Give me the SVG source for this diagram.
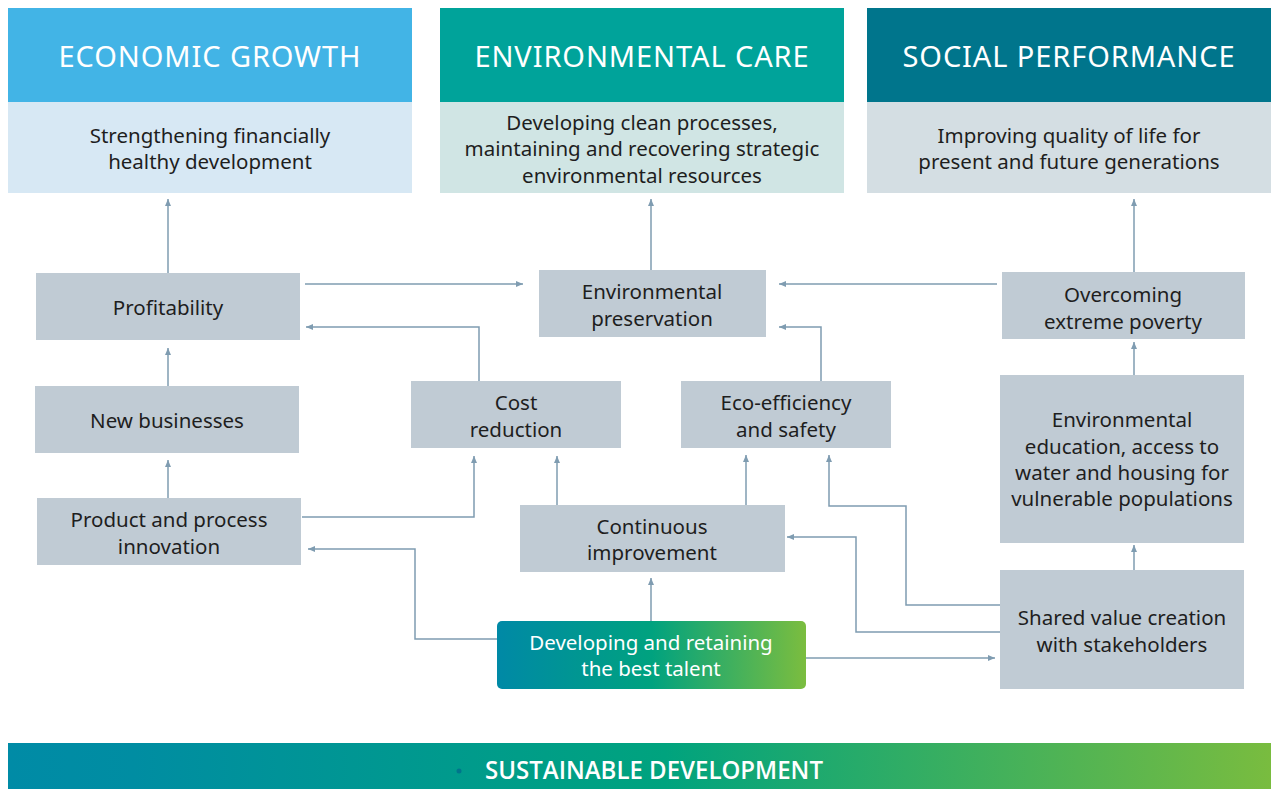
<svg xmlns="http://www.w3.org/2000/svg" width="1271" height="789" viewBox="0 0 1271 789">
<defs>
<linearGradient id="gTalent" x1="0" y1="0" x2="1" y2="0">
<stop offset="0" stop-color="#0089a6"/>
<stop offset="0.5" stop-color="#00a27f"/>
<stop offset="1" stop-color="#7bbd3f"/>
</linearGradient>
<linearGradient id="gBar" x1="0" y1="0" x2="1" y2="0">
<stop offset="0" stop-color="#008ba6"/>
<stop offset="0.1" stop-color="#008da2"/>
<stop offset="0.52" stop-color="#00a37e"/>
<stop offset="1" stop-color="#79bc3f"/>
</linearGradient>
<marker id="ah" markerUnits="userSpaceOnUse" markerWidth="8" markerHeight="8" viewBox="0 0 8 8" refX="7" refY="4" orient="auto">
<path d="M0,1 L7,4 L0,7 Z" fill="#7f9cb1"/>
</marker>
<style>
.hd{font-family:"Noto Sans","Open Sans",sans-serif;font-size:29px;fill:#ffffff;text-anchor:middle;letter-spacing:0.9px}
.sub{font-family:"Noto Sans","Open Sans",sans-serif;font-size:20.5px;fill:#1e1e1e;text-anchor:middle}
.nd{fill:#c0cbd4}
.tx{font-family:"Noto Sans","Open Sans",sans-serif;font-size:20.5px;fill:#1e1e1e;text-anchor:middle}
.wt{font-family:"Noto Sans","Open Sans",sans-serif;font-size:20.5px;fill:#ffffff;text-anchor:middle}
.cn{fill:none;stroke:#7f9cb1;stroke-width:1.5}
.ar{marker-end:url(#ah)}
</style>
</defs>
<rect width="1271" height="789" fill="#ffffff"/>

<g id="economic-growth">
<rect x="8" y="8" width="404" height="94" fill="#42b4e6"/>
<rect x="8" y="102" width="404" height="91" fill="#d7e8f4"/>
<text class="hd" x="210" y="67">ECONOMIC GROWTH</text>
<text class="sub" x="210" y="143">Strengthening financially</text>
<text class="sub" x="210" y="169">healthy development</text>
</g>
<g id="environmental-care">
<rect x="440" y="8" width="404" height="94" fill="#00a39a"/>
<rect x="440" y="102" width="404" height="91" fill="#d0e5e4"/>
<text class="hd" x="642" y="67">ENVIRONMENTAL CARE</text>
<text class="sub" x="642" y="130">Developing clean processes,</text>
<text class="sub" x="642" y="156">maintaining and recovering strategic</text>
<text class="sub" x="642" y="183">environmental resources</text>
</g>
<g id="social-performance">
<rect x="867" y="8" width="404" height="94" fill="#00758c"/>
<rect x="867" y="102" width="404" height="91" fill="#d4dee3"/>
<text class="hd" x="1069" y="67">SOCIAL PERFORMANCE</text>
<text class="sub" x="1069" y="143">Improving quality of life for</text>
<text class="sub" x="1069" y="169">present and future generations</text>
</g>

<g id="connectors">
<path class="cn ar" d="M168,273 V199"/>
<path class="cn ar" d="M168,386 V348"/>
<path class="cn ar" d="M168,498 V460"/>
<path class="cn ar" d="M305,284 H523"/>
<path class="cn ar" d="M479,381 V327 H306"/>
<path class="cn ar" d="M651,270 V199"/>
<path class="cn ar" d="M997,284 H779"/>
<path class="cn ar" d="M821,381 V327 H779"/>
<path class="cn ar" d="M1134,272 V199"/>
<path class="cn ar" d="M1134,375 V342"/>
<path class="cn ar" d="M1134,570 V545"/>
<path class="cn ar" d="M302,517 H474 V456"/>
<path class="cn ar" d="M557,505 V456"/>
<path class="cn ar" d="M746,505 V455"/>
<path class="cn ar" d="M651,621 V578"/>
<path class="cn ar" d="M497,639 H415 V549 H308"/>
<path class="cn ar" d="M806,658 H995"/>
<path class="cn ar" d="M1000,605 H906 V506 H829 V455"/>
<path class="cn ar" d="M1000,632 H856 V537 H787"/>
</g>

<g id="profitability">
<rect class="nd" x="36" y="273" width="264" height="67"/>
<text class="tx" x="168" y="315">Profitability</text>
</g>
<g id="environmental-preservation">
<rect class="nd" x="539" y="270" width="227" height="67"/>
<text class="tx" x="652" y="299">Environmental</text>
<text class="tx" x="652" y="326">preservation</text>
</g>
<g id="overcoming-poverty">
<rect class="nd" x="1002" y="272" width="243" height="67"/>
<text class="tx" x="1123" y="302">Overcoming</text>
<text class="tx" x="1123" y="329">extreme poverty</text>
</g>
<g id="new-businesses">
<rect class="nd" x="35" y="386" width="264" height="67"/>
<text class="tx" x="167" y="428">New businesses</text>
</g>
<g id="cost-reduction">
<rect class="nd" x="411" y="381" width="210" height="67"/>
<text class="tx" x="516" y="410">Cost</text>
<text class="tx" x="516" y="437">reduction</text>
</g>
<g id="eco-efficiency">
<rect class="nd" x="681" y="381" width="210" height="67"/>
<text class="tx" x="786" y="410">Eco-efficiency</text>
<text class="tx" x="786" y="437">and safety</text>
</g>
<g id="environmental-education">
<rect class="nd" x="1000" y="375" width="244" height="168"/>
<text class="tx" x="1122" y="427">Environmental</text>
<text class="tx" x="1122" y="454">education, access to</text>
<text class="tx" x="1122" y="480">water and housing for</text>
<text class="tx" x="1122" y="506">vulnerable populations</text>
</g>
<g id="product-innovation">
<rect class="nd" x="37" y="498" width="264" height="67"/>
<text class="tx" x="169" y="527">Product and process</text>
<text class="tx" x="169" y="554">innovation</text>
</g>
<g id="continuous-improvement">
<rect class="nd" x="520" y="505" width="265" height="67"/>
<text class="tx" x="652" y="534">Continuous</text>
<text class="tx" x="652" y="560">improvement</text>
</g>
<g id="talent">
<rect x="497" y="621" width="309" height="68" rx="5" fill="url(#gTalent)"/>
<text class="wt" x="651" y="650">Developing and retaining</text>
<text class="wt" x="651" y="676">the best talent</text>
</g>
<g id="shared-value">
<rect class="nd" x="1000" y="570" width="244" height="119"/>
<text class="tx" x="1122" y="625">Shared value creation</text>
<text class="tx" x="1122" y="652">with stakeholders</text>
</g>

<g id="sustainable-development">
<rect x="8" y="743" width="1263" height="46" fill="url(#gBar)"/>
<circle cx="459" cy="771" r="2.5" fill="#00758c"/>
<text x="654" y="779" font-family="'Open Sans','Noto Sans',sans-serif" font-size="25" font-weight="600" fill="#ffffff" text-anchor="middle" transform="translate(654 0) scale(0.96 1) translate(-654 0)">SUSTAINABLE DEVELOPMENT</text>
</g>
</svg>
